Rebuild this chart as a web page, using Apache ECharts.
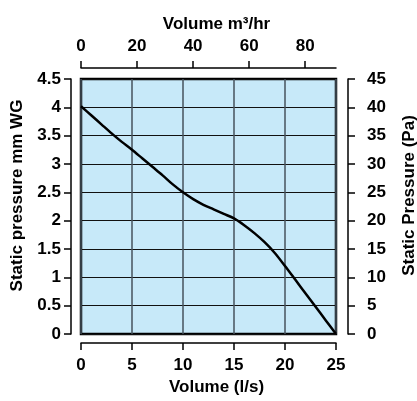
<!DOCTYPE html>
<html>
<head>
<meta charset="utf-8">
<script src="https://cdn.jsdelivr.net/npm/echarts@6/dist/echarts.min.js"></script>
<style>
  html, body { margin: 0; padding: 0; background: #fff; }
  #chart { width: 417px; height: 401px; }
</style>
</head>
<body>
<div id="chart"></div>
<script>
// volume in l/s and static pressure in mm WG
const volumeLs = [0, 1, 2, 3, 4, 5, 6, 7, 8, 9, 10, 11, 12, 13, 14, 15, 16, 17, 18, 19, 20, 21, 22, 23, 24, 25];
const pressureMm = [4.02, 3.86, 3.70, 3.54, 3.39, 3.25, 3.10, 2.95, 2.80, 2.64, 2.50, 2.38, 2.28, 2.20, 2.12, 2.04, 1.92, 1.78, 1.62, 1.43, 1.20, 0.96, 0.72, 0.48, 0.24, 0];
const topTicks = [0, 20, 40, 60, 80];

const font = "Liberation Sans";
const labelStyle = { color: "#000", fontFamily: font, fontWeight: "bold", fontSize: 17 };
const nameStyle = { color: "#000", fontFamily: font, fontWeight: "bold", fontSize: 17 };
const axisLine = { show: true, onZero: false, lineStyle: { color: "#000", width: 1.5 } };
const axisTick = { show: true, length: 7, lineStyle: { color: "#000", width: 1.5 } };

const chart = echarts.init(document.getElementById("chart"));
chart.setOption({
  animation: false,
  grid: {
    left: 81, right: 81, top: 79, bottom: 67,
    outerBoundsMode: "none",
    show: true,
    backgroundColor: "#c7e9f9",
    borderColor: "#000",
    borderWidth: 2.5,
  },
  xAxis: [
    {
      type: "value",
      position: "bottom",
      min: 0, max: 25, interval: 5,
      offset: 9,
      name: "Volume (l/s)",
      nameLocation: "middle",
      nameGap: 30,
      nameTextStyle: Object.assign({ padding: [0, 0, 0, 16] }, nameStyle),
      axisLine: axisLine,
      axisTick: axisTick,
      axisLabel: Object.assign({ margin: 14 }, labelStyle),
      splitLine: { show: true, lineStyle: { color: "#46525c", width: 1.5 } },
    },
    {
      type: "value",
      position: "top",
      min: 0, max: 91,
      offset: 11,
      name: "Volume m³/hr",
      nameLocation: "middle",
      nameGap: 35,
      nameTextStyle: Object.assign({ padding: [0, 0, 0, 16] }, nameStyle),
      axisLine: axisLine,
      axisTick: Object.assign({ customValues: topTicks }, axisTick),
      axisLabel: Object.assign({ margin: 13, customValues: topTicks }, labelStyle),
      splitLine: { show: false },
    },
  ],
  yAxis: [
    {
      type: "value",
      position: "left",
      min: 0, max: 4.5, interval: 0.5,
      offset: 10,
      name: "Static pressure mm WG",
      nameLocation: "middle",
      nameGap: 45,
      nameRotate: 90,
      nameTextStyle: Object.assign({ padding: [0, 0, 0, 22] }, nameStyle),
      axisLine: axisLine,
      axisTick: axisTick,
      axisLabel: Object.assign({ margin: 10 }, labelStyle),
      splitLine: { show: true, lineStyle: { color: "#111", width: 1 } },
    },
    {
      type: "value",
      position: "right",
      min: 0, max: 45, interval: 5,
      offset: 12,
      name: "Static Pressure (Pa)",
      nameLocation: "middle",
      nameGap: 53,
      nameRotate: 90,
      nameTextStyle: Object.assign({ padding: [0, 0, 0, 22] }, nameStyle),
      axisLine: axisLine,
      axisTick: axisTick,
      axisLabel: Object.assign({ margin: 19 }, labelStyle),
      splitLine: { show: false },
    },
  ],
  series: [
    {
      type: "line",
      xAxisIndex: 0,
      yAxisIndex: 0,
      data: volumeLs.map((v, i) => [v, pressureMm[i]]),
      smooth: 0.3,
      symbol: "none",
      lineStyle: { color: "#000", width: 2.5 },
      z: 5,
    },
  ],
});
</script>
</body>
</html>
